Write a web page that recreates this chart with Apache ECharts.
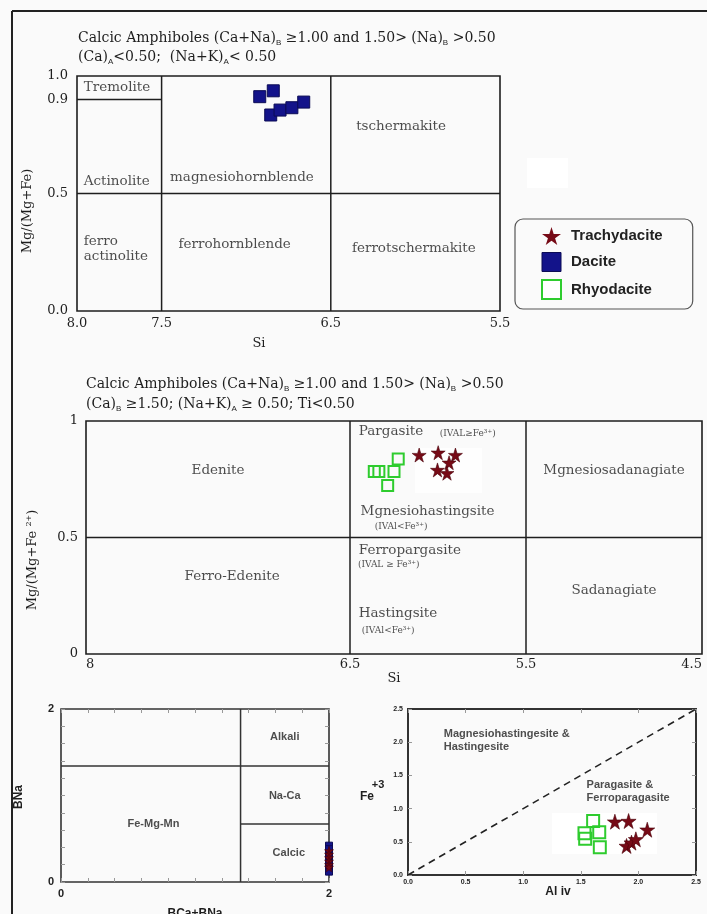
<!DOCTYPE html>
<html><head><meta charset="utf-8">
<script src="https://cdn.jsdelivr.net/npm/echarts@6/dist/echarts.min.js"></script>
<style>html,body{margin:0;padding:0;background:#fafafa}#c{width:707px;height:914px}</style>
</head><body><div id="c"></div>
<script>
// ================= DATA =================
// Panel A (top): Si vs Mg/(Mg+Fe)
const topSiTicks = [8.0, 7.5, 6.5, 5.5];
const topMgTicks = [1.0, 0.9, 0.5, 0.0];
const topDaciteSi = [6.92, 6.84, 6.855, 6.80, 6.73, 6.66];
const topDaciteMg = [0.912, 0.937, 0.834, 0.855, 0.865, 0.889];
const topBoundaries = [
  [[7.5, 0], [7.5, 1]],
  [[6.5, 0], [6.5, 1]],
  [[8, 0.5], [5.5, 0.5]],
  [[8, 0.9], [7.5, 0.9]]
];
const topFieldNames = ['Tremolite', 'Actinolite', 'magnesiohornblende', 'tschermakite', 'ferro\nactinolite', 'ferrohornblende', 'ferrotschermakite'];
const topFieldSi = [7.96, 7.96, 7.45, 6.35, 7.96, 7.40, 6.375];
const topFieldMg = [0.953, 0.553, 0.566, 0.783, 0.262, 0.281, 0.268];

// Panel B (middle): Si vs Mg/(Mg+Fe2+)
const midSiTicks = [8, 6.5, 5.5, 4.5];
const midMgTicks = [1, 0.5, 0];
const midRhyoSi = [6.362, 6.336, 6.250, 6.226, 6.286];
const midRhyoMg = [0.783, 0.783, 0.783, 0.837, 0.723];
const midTrachySi = [6.107, 5.999, 5.901, 5.937, 6.003, 5.949];
const midTrachyMg = [0.854, 0.864, 0.854, 0.821, 0.790, 0.776];
const midBoundaries = [
  [[6.5, 0], [6.5, 1]],
  [[5.5, 0], [5.5, 1]],
  [[8, 0.5], [4.5, 0.5]]
];
const midFieldNames = ['Pargasite', '(IVAL≥Fe³⁺)', 'Edenite', 'Mgnesiosadanagiate', 'Mgnesiohastingsite', '(IVAl<Fe³⁺)', 'Ferro-Edenite', 'Ferropargasite', '(IVAL ≥ Fe³⁺)', 'Sadanagiate', 'Hastingsite', '(IVAl<Fe³⁺)'];
const midFieldSi = [6.45, 5.99, 7.25, 5.0, 6.44, 6.36, 7.17, 6.45, 6.455, 5.0, 6.45, 6.433];
const midFieldMg = [0.953, 0.944, 0.786, 0.786, 0.61, 0.546, 0.331, 0.443, 0.383, 0.271, 0.173, 0.10];

// Panel C (bottom-left): BCa+BNa vs BNa
const blTicks = [0, 2];
const blBoundaries = [
  [[1.34, 0], [1.34, 2]],
  [[0, 1.34], [2, 1.34]],
  [[1.34, 0.67], [2, 0.67]]
];
const blFieldNames = ['Alkali', 'Na-Ca', 'Fe-Mg-Mn', 'Calcic'];
const blFieldX = [1.67, 1.67, 0.69, 1.70];
const blFieldY = [1.68, 1.0, 0.674, 0.339];
const blDaciteX = [2, 2, 2, 2, 2, 2];
const blDaciteY = [0.42, 0.38, 0.30, 0.22, 0.16, 0.12];
const blTrachyX = [2, 2, 2, 2, 2, 2];
const blTrachyY = [0.36, 0.32, 0.28, 0.24, 0.20, 0.17];

// Panel D (bottom-right): Al iv vs Fe+3
const brTicks = [0, 0.5, 1.0, 1.5, 2.0, 2.5];
const brRhyoAl = [1.607, 1.532, 1.538, 1.660, 1.665];
const brRhyoFe = [0.813, 0.628, 0.547, 0.643, 0.417];
const brTrachyAl = [1.796, 1.915, 2.077, 1.897, 1.940, 1.978];
const brTrachyFe = [0.803, 0.813, 0.682, 0.437, 0.487, 0.537];
const brDivider = [[0, 0], [2.5, 2.5]];
const brFieldNames = ['Magnesiohastingesite &\nHastingesite', 'Paragasite &\nFerroparagasite'];
const brFieldAl = [0.31, 1.55];
const brFieldFe = [2.03, 1.265];

// ================= STYLE =================
const SERIF = 'DejaVu Serif';
const SANS = 'Liberation Sans';
const INK = '#1e1e1e';
const STAR = 'path://M50,0 L61,35 L98,35 L68,57 L79,91 L50,70 L21,91 L32,57 L2,35 L39,35 Z';
const TRACHY = '#760a16';
const DACITE = '#13138a';
const RHYO = '#2ecc2e';

const zip = (a, b) => a.map((v, i) => [v, b[i]]);
const pick = (ticks, fmt) => v => ticks.some(t => Math.abs(t - v) < 1e-6) ? fmt(v) : '';

const chart = echarts.init(document.getElementById('c'), null, {renderer: 'canvas'});

const grids = [
  {left: 77, top: 76, width: 423, height: 235},
  {left: 86, top: 421, width: 616, height: 233},
  {left: 61, top: 709, width: 268, height: 173},
  {left: 408, top: 709, width: 288, height: 166}
].map((g, i) => Object.assign({
  show: true, borderColor: i >= 2 ? '#333' : INK, borderWidth: i === 3 ? 2 : 1.6,
  backgroundColor: 'transparent', containLabel: false, outerBoundsMode: 'none'
}, g));

const serifLabel = {fontFamily: SERIF, fontSize: 13, color: INK};
const sansBold = {fontFamily: SANS, fontWeight: 'bold', color: '#222'};
const tickIn = {show: true, inside: true, length: 4, lineStyle: {color: '#999'}};
const noLine = {show: false, onZero: false};

const xAxis = [
  {gridIndex: 0, type: 'value', min: 5.5, max: 8, interval: 0.5, inverse: true,
   axisLine: noLine, axisTick: {show: false}, splitLine: {show: false},
   axisLabel: Object.assign({margin: 6, showMinLabel: true, showMaxLabel: true,
     formatter: pick(topSiTicks, v => v.toFixed(1))}, serifLabel)},
  {gridIndex: 1, type: 'value', min: 4.5, max: 8, interval: 0.5, inverse: true,
   axisLine: noLine, axisTick: {show: false}, splitLine: {show: false},
   axisLabel: Object.assign({margin: 4, showMinLabel: true, showMaxLabel: true,
     alignMinLabel: 'right', alignMaxLabel: 'left',
     formatter: pick(midSiTicks, v => String(v))}, serifLabel)},
  {gridIndex: 2, type: 'value', min: 0, max: 2, interval: 0.2,
   axisLine: noLine, splitLine: {show: false}, axisTick: tickIn,
   axisLabel: Object.assign({margin: 6, fontSize: 11, showMinLabel: true, showMaxLabel: true,
     formatter: pick(blTicks, v => String(v))}, sansBold)},
  {gridIndex: 3, type: 'value', min: 0, max: 2.5, interval: 0.5,
   axisLine: noLine, splitLine: {show: false}, axisTick: tickIn,
   axisLabel: Object.assign({margin: 4, fontSize: 7, showMinLabel: true, showMaxLabel: true,
     formatter: pick(brTicks, v => v.toFixed(1))}, sansBold)},
  {gridIndex: 2, type: 'value', position: 'top', min: 0, max: 2, interval: 0.2,
   axisLine: noLine, splitLine: {show: false}, axisLabel: {show: false}, axisTick: tickIn},
  {gridIndex: 3, type: 'value', position: 'top', min: 0, max: 2.5, interval: 0.5,
   axisLine: noLine, splitLine: {show: false}, axisLabel: {show: false}, axisTick: tickIn}
];
const yAxis = [
  {gridIndex: 0, type: 'value', min: 0, max: 1, interval: 0.1,
   axisLine: noLine, axisTick: {show: false}, splitLine: {show: false},
   axisLabel: Object.assign({margin: 9, showMinLabel: true, showMaxLabel: true,
     formatter: pick(topMgTicks, v => v.toFixed(1))}, serifLabel)},
  {gridIndex: 1, type: 'value', min: 0, max: 1, interval: 0.5,
   axisLine: noLine, axisTick: {show: false}, splitLine: {show: false},
   axisLabel: Object.assign({margin: 8, showMinLabel: true, showMaxLabel: true,
     formatter: pick(midMgTicks, v => String(v))}, serifLabel)},
  {gridIndex: 2, type: 'value', min: 0, max: 2, interval: 0.2,
   axisLine: noLine, splitLine: {show: false}, axisTick: tickIn,
   axisLabel: Object.assign({margin: 7, fontSize: 11, showMinLabel: true, showMaxLabel: true,
     formatter: pick(blTicks, v => String(v))}, sansBold)},
  {gridIndex: 3, type: 'value', min: 0, max: 2.5, interval: 0.5,
   axisLine: noLine, splitLine: {show: false}, axisTick: tickIn,
   axisLabel: Object.assign({margin: 5, fontSize: 7, showMinLabel: true, showMaxLabel: true,
     formatter: pick(brTicks, v => v.toFixed(1))}, sansBold)},
  {gridIndex: 2, type: 'value', position: 'right', min: 0, max: 2, interval: 0.2,
   axisLine: noLine, splitLine: {show: false}, axisLabel: {show: false}, axisTick: tickIn},
  {gridIndex: 3, type: 'value', position: 'right', min: 0, max: 2.5, interval: 0.5,
   axisLine: noLine, splitLine: {show: false}, axisLabel: {show: false}, axisTick: tickIn}
];

const series = [];
function boundaries(segs, idx, style) {
  segs.forEach(seg => series.push({
    type: 'line', xAxisIndex: idx, yAxisIndex: idx, data: seg, symbol: 'none',
    silent: true, animation: false, z: 3,
    lineStyle: Object.assign({color: INK, width: 1.5}, style || {})
  }));
}
function labels(names, xs, ys, idx, style, align) {
  series.push({
    type: 'scatter', xAxisIndex: idx, yAxisIndex: idx, symbolSize: 0, silent: true,
    animation: false, clip: false, z: 4,
    data: names.map((n, i) => ({name: n, value: [xs[i], ys[i]]})),
    label: Object.assign({show: true, position: [0, 0], align: align || 'left',
      verticalAlign: 'middle', formatter: p => p.name}, style)
  });
}
function points(name, xs, ys, idx, opts) {
  series.push(Object.assign({
    type: 'scatter', name, xAxisIndex: idx, yAxisIndex: idx, data: zip(xs, ys),
    clip: false, animation: false, z: 6
  }, opts));
}
const trachyStyle = (size) => ({symbol: STAR, symbolSize: size,
  itemStyle: {color: TRACHY, opacity: 1, borderColor: '#4a0008', borderWidth: 0.6}});
const daciteStyle = (size) => ({symbol: 'rect', symbolSize: size,
  itemStyle: {color: DACITE, opacity: 1, borderColor: '#0b0b55', borderWidth: 1}});
const rhyoStyle = (size) => ({symbol: 'rect', symbolSize: size,
  itemStyle: {color: 'rgba(255,255,255,0)', opacity: 1, borderColor: RHYO, borderWidth: 2}});

// Panel A
boundaries(topBoundaries, 0);
labels(topFieldNames, topFieldSi, topFieldMg, 0, Object.assign({lineHeight: 15}, serifLabel, {fontSize: 13.5}));
points('Dacite', topDaciteSi, topDaciteMg, 0, daciteStyle(12));

// Panel B
boundaries(midBoundaries, 1);
const midSizes = midFieldNames.map(n => n.startsWith('(') ? 9 : 13.5);
series.push({
  type: 'scatter', xAxisIndex: 1, yAxisIndex: 1, symbolSize: 0, silent: true, animation: false, clip: false, z: 4,
  data: midFieldNames.map((n, i) => {
    const centered = ['Edenite', 'Mgnesiosadanagiate', 'Ferro-Edenite', 'Sadanagiate'].includes(n);
    return {name: n, value: [midFieldSi[i], midFieldMg[i]],
      label: {align: centered ? 'center' : 'left', fontSize: midSizes[i]}};
  }),
  label: {show: true, position: [0, 0], verticalAlign: 'middle', fontFamily: SERIF, color: INK, formatter: p => p.name}
});
points('Rhyodacite', midRhyoSi, midRhyoMg, 1, rhyoStyle(11));
points('Trachydacite', midTrachySi, midTrachyMg, 1, trachyStyle(14));

// Panel C
boundaries(blBoundaries, 2, {color: '#333', width: 1.5});
labels(blFieldNames, blFieldX, blFieldY, 2, Object.assign({fontSize: 11}, sansBold), 'center');
points('Dacite', blDaciteX, blDaciteY, 2, daciteStyle(7));
points('Trachydacite', blTrachyX, blTrachyY, 2, trachyStyle(9));

// Panel D
boundaries([brDivider], 3, {color: '#222', width: 1.6, type: [7, 5]});
labels(brFieldNames, brFieldAl, brFieldFe, 3, Object.assign({fontSize: 11, lineHeight: 13}, sansBold));
points('Rhyodacite', brRhyoAl, brRhyoFe, 3, rhyoStyle(12));
points('Trachydacite', brTrachyAl, brTrachyFe, 3, trachyStyle(15));

const subRich = {
  t: {fontFamily: SERIF, fontSize: 14, color: INK},
  s: {fontFamily: SANS, fontSize: 8, color: INK, padding: [9, 0, 0, 0]}
};
function textG(x, y, text, style, rot) {
  return {type: 'text', x, y, rotation: rot || 0, silent: true, z: 10,
    style: Object.assign({text, fill: INK, align: 'center', verticalAlign: 'middle'}, style)};
}

const graphic = [
  // page frame
  {type: 'line', shape: {x1: 12, y1: 11, x2: 12, y2: 914}, style: {stroke: '#222', lineWidth: 2}, silent: true},
  {type: 'line', shape: {x1: 12, y1: 11, x2: 707, y2: 11}, style: {stroke: '#222', lineWidth: 2}, silent: true},
  // faint white patches in the scan
  {type: 'rect', shape: {x: 527, y: 158, width: 41, height: 30}, style: {fill: '#ffffff'}, silent: true, z: -1},
  {type: 'rect', shape: {x: 415, y: 448, width: 67, height: 45}, style: {fill: '#fefefe'}, silent: true, z: -1},
  {type: 'rect', shape: {x: 552, y: 813, width: 105, height: 41}, style: {fill: '#ffffff'}, silent: true, z: -1},
  // titles
  textG(78, 38, '{t|Calcic Amphiboles (Ca+Na)}{s|B}{t| ≥1.00 and 1.50> (Na)}{s|B}{t| >0.50}', {align: 'left', rich: subRich}),
  textG(78, 57, '{t|(Ca)}{s|A}{t|<0.50;  (Na+K)}{s|A}{t|< 0.50}', {align: 'left', rich: subRich}),
  textG(86, 384, '{t|Calcic Amphiboles (Ca+Na)}{s|B}{t| ≥1.00 and 1.50> (Na)}{s|B}{t| >0.50}', {align: 'left', rich: subRich}),
  textG(86, 404, '{t|(Ca)}{s|B}{t| ≥1.50; (Na+K)}{s|A}{t| ≥ 0.50; Ti<0.50}', {align: 'left', rich: subRich}),
  // axis names
  textG(28, 211, 'Mg/(Mg+Fe)', {font: '13px "' + SERIF + '"'}, Math.PI / 2),
  textG(259, 344, 'Si', {font: '13px "' + SERIF + '"'}),
  textG(33, 560, '{t|Mg/(Mg+Fe }{p|2+}{t|)}', {rich: {
    t: {fontFamily: SERIF, fontSize: 13, color: INK},
    p: {fontFamily: SERIF, fontSize: 8, color: INK, padding: [0, 0, 8, 0]}}}, Math.PI / 2),
  textG(394, 679, 'Si', {font: '13px "' + SERIF + '"'}),
  textG(19, 797, 'BNa', {font: 'bold 12px "' + SANS + '"'}, Math.PI / 2),
  textG(195, 914, 'BCa+BNa', {font: 'bold 12px "' + SANS + '"'}),
  textG(558, 892, 'Al iv', {font: 'bold 12px "' + SANS + '"'}),
  textG(367, 797, 'Fe', {font: 'bold 12px "' + SANS + '"'}),
  textG(378, 785, '+3', {font: 'bold 11px "' + SANS + '"'})
];

chart.setOption({
  backgroundColor: '#fafafa',
  animation: false,
  grid: grids,
  xAxis, yAxis, series, graphic,
  legend: {
    left: 515, top: 219, orient: 'vertical', itemWidth: 19, itemHeight: 19, itemGap: 7,
    padding: [8, 30, 9, 26], borderColor: '#555', borderWidth: 1.2, borderRadius: 8,
    backgroundColor: '#fafafa', selectedMode: false,
    textStyle: {fontFamily: SANS, fontWeight: 'bold', fontSize: 15, color: '#222', padding: [0, 0, 0, 5]},
    data: [
      {name: 'Trachydacite', icon: STAR, itemStyle: {color: TRACHY, opacity: 1, borderWidth: 0}},
      {name: 'Dacite', icon: 'rect', itemStyle: {color: DACITE, opacity: 1, borderColor: '#0b0b55', borderWidth: 1}},
      {name: 'Rhyodacite', icon: 'rect', itemStyle: {color: '#ffffff', opacity: 1, borderColor: RHYO, borderWidth: 2}}
    ]
  }
});
</script></body></html>
